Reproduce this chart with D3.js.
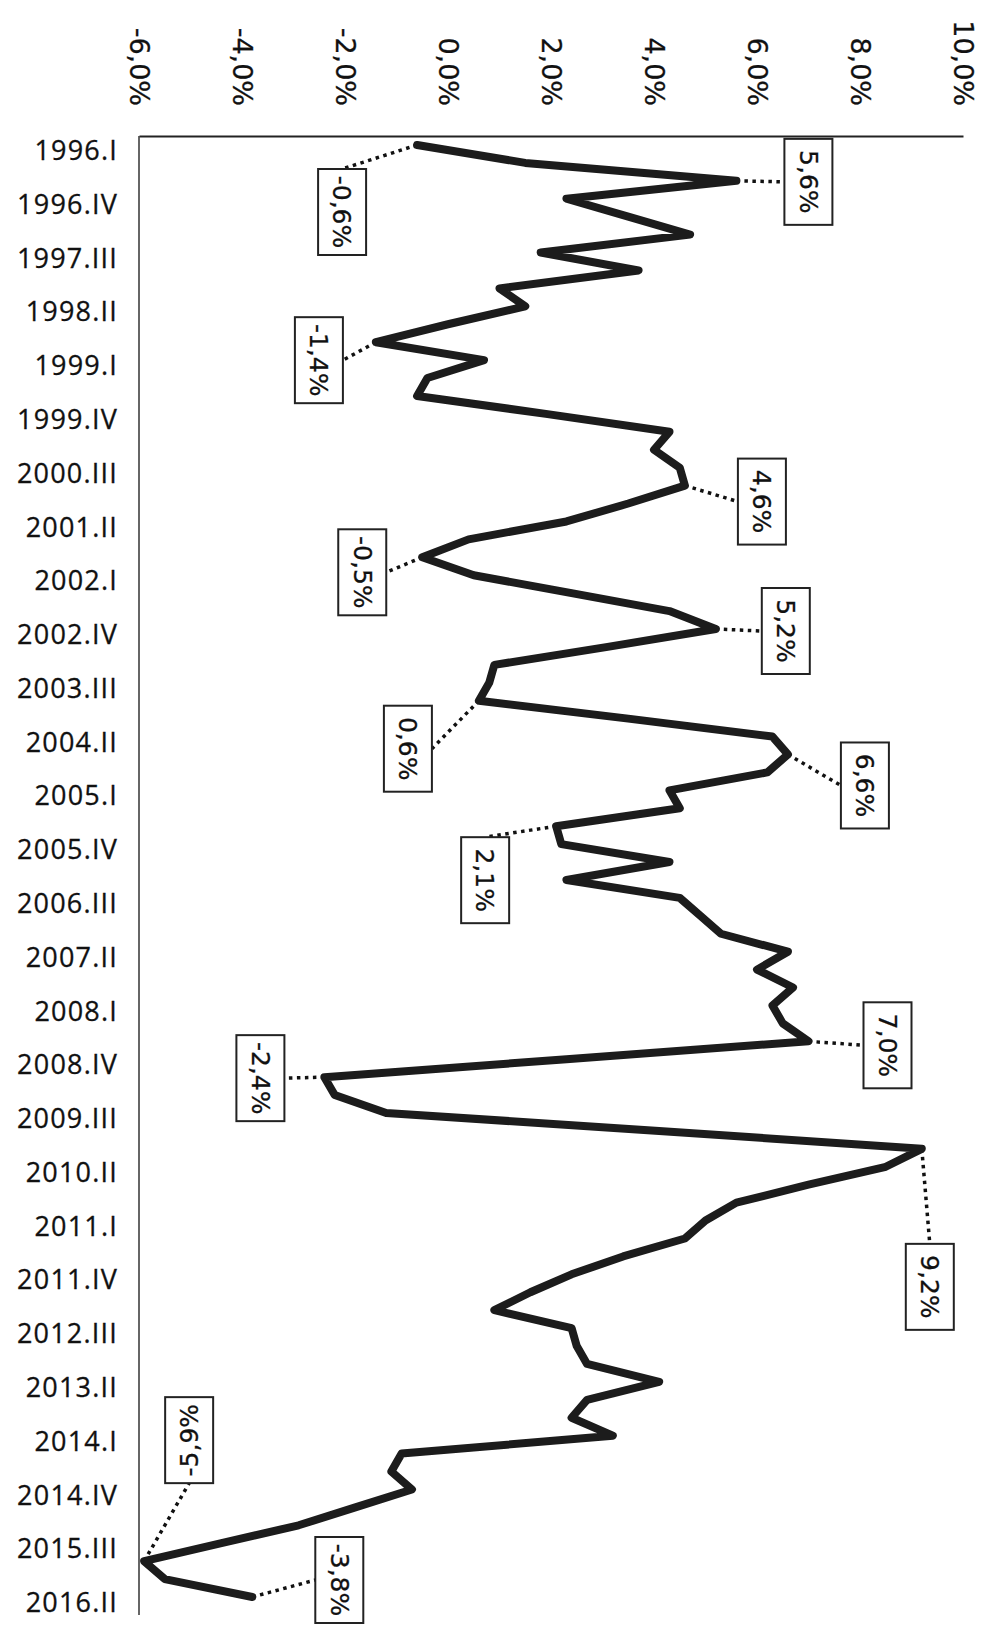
<!DOCTYPE html>
<html lang="en">
<head>
<meta charset="UTF-8">
<title>Quarterly growth, 1996-2016</title>
<script src="https://d3js.org/d3.v7.min.js"></script>
<style>
  body { margin: 0; background: #fff; }
  svg { display: block; background: #fff; }
  .cat text { font-family: "Open Sans", sans-serif; font-size: 27px; letter-spacing: 1.2px; fill: #111; stroke: #111; stroke-width: 0.3px; }
  .xaxis text { font-family: "DejaVu Sans", sans-serif; font-size: 27px; fill: #111; stroke: #111; stroke-width: 0.3px; }
  .callout text { font-family: "DejaVu Sans", sans-serif; font-size: 25px; fill: #111; stroke: #111; stroke-width: 0.3px; }
</style>
</head>
<body>
<div id="chart"></div>
<script>
// quarters on the vertical axis
const quarters = [
  "1996.I","1996.II","1996.III","1996.IV",
  "1997.I","1997.II","1997.III","1997.IV",
  "1998.I","1998.II","1998.III","1998.IV",
  "1999.I","1999.II","1999.III","1999.IV",
  "2000.I","2000.II","2000.III","2000.IV",
  "2001.I","2001.II","2001.III","2001.IV",
  "2002.I","2002.II","2002.III","2002.IV",
  "2003.I","2003.II","2003.III","2003.IV",
  "2004.I","2004.II","2004.III","2004.IV",
  "2005.I","2005.II","2005.III","2005.IV",
  "2006.I","2006.II","2006.III","2006.IV",
  "2007.I","2007.II","2007.III","2007.IV",
  "2008.I","2008.II","2008.III","2008.IV",
  "2009.I","2009.II","2009.III","2009.IV",
  "2010.I","2010.II","2010.III","2010.IV",
  "2011.I","2011.II","2011.III","2011.IV",
  "2012.I","2012.II","2012.III","2012.IV",
  "2013.I","2013.II","2013.III","2013.IV",
  "2014.I","2014.II","2014.III","2014.IV",
  "2015.I","2015.II","2015.III","2015.IV",
  "2016.I","2016.II"
];

// growth, %
const growth = [
  -0.6, 1.5, 5.6, 2.3, 3.5, 4.7, 1.8, 3.7, 1.0, 1.5,
   0.0, -1.4, 0.7, -0.4, -0.6, 1.9, 4.3, 4.0, 4.5, 4.6,
   3.5, 2.3, 0.4, -0.5, 0.5, 2.4, 4.3, 5.2, 3.1, 0.9,
   0.8, 0.6, 3.5, 6.3, 6.6, 6.2, 4.3, 4.5, 2.1, 2.2,
   4.3, 2.3, 4.5, 4.9, 5.3, 6.6, 6.0, 6.7, 6.3, 6.5,
   7.0, 2.3, -2.4, -2.2, -1.2, 4.1, 9.2, 8.5, 7.0, 5.6,
   5.0, 4.6, 3.4, 2.4, 1.6, 0.9, 2.4, 2.5, 2.7, 4.1,
   2.7, 2.4, 3.2, -0.9, -1.1, -0.7, -1.8, -2.9, -4.4, -5.9,
  -5.5, -3.8
];

const xTicks = [-6, -4, -2, 0, 2, 4, 6, 8, 10];

// labelled points: box offset from the point and which box edge the leader hits
const callouts = [
  { q: "1996.I",   dx: -75, dy: 67,   side: "top" },
  { q: "1996.III", dx: 72,  dy: 1,    side: "left" },
  { q: "1998.IV",  dx: -57, dy: 18,   side: "right" },
  { q: "2000.IV",  dx: 77,  dy: 16,   side: "left" },
  { q: "2001.IV",  dx: -60, dy: 15,   side: "right" },
  { q: "2002.IV",  dx: 70,  dy: 2,    side: "left" },
  { q: "2003.IV",  dx: -71, dy: 48,   side: "right" },
  { q: "2004.III", dx: 77,  dy: 31,   side: "left" },
  { q: "2005.III", dx: -71, dy: 54,   side: "top" },
  { q: "2008.III", dx: 79,  dy: 4,    side: "left" },
  { q: "2009.I",   dx: -64, dy: 1,    side: "right" },
  { q: "2010.I",   dx: 8,   dy: 138,  side: "top" },
  { q: "2015.IV",  dx: 45,  dy: -121, side: "bottom", flip: true },
  { q: "2016.II",  dx: 87,  dy: -17,  side: "left" }
];

const width = 985;
const height = 1638;

const loc = d3.formatLocale({ decimal: ",", thousands: " ", grouping: [3], currency: ["", ""], minus: "-" });
const pct = v => loc.format(".1f")(v) + "%";

const svg = d3.select("#chart")
  .append("svg")
  .attr("width", width)
  .attr("height", height);

const x = d3.scaleLinear().domain([-6, 10]).range([139, 963]);
const y = d3.scalePoint().domain(quarters).range([145, 1597]);
const axisY = 136;

// top value axis, labels turned on their side
const xAxis = svg.append("g")
  .attr("class", "xaxis")
  .attr("transform", `translate(0,${axisY})`)
  .call(d3.axisTop(x).tickValues(xTicks).tickSize(0).tickSizeOuter(0).tickFormat(pct));
xAxis.select(".domain").attr("stroke", "#222").attr("stroke-width", 2);
xAxis.selectAll("text")
  .attr("transform", "rotate(90)")
  .attr("x", -30)
  .attr("y", 0)
  .attr("dy", "0.35em")
  .attr("text-anchor", "end");

// left category axis
svg.append("line")
  .attr("x1", x(-6)).attr("x2", x(-6))
  .attr("y1", axisY).attr("y2", 1615)
  .attr("stroke", "#333").attr("stroke-width", 1.5);

const yAxis = svg.append("g")
  .attr("class", "cat")
  .attr("transform", `translate(${x(-6)},6)`)
  .call(d3.axisLeft(y).tickValues(quarters.filter((d, i) => i % 3 === 0)).tickSize(0).tickPadding(21));
yAxis.select(".domain").remove();

const pts = quarters.map((q, i) => ({ q, v: growth[i] }));

// callout boxes
const boxW = 48, boxH = 86;
const cdata = callouts.map(c => {
  const i = quarters.indexOf(c.q);
  const px = x(growth[i]), py = y(c.q);
  const cx = px + c.dx, cy = py + c.dy;
  let ax = cx, ay = cy;
  if (c.side === "top") ay = cy - boxH / 2;
  if (c.side === "bottom") ay = cy + boxH / 2;
  if (c.side === "left") ax = cx - boxW / 2;
  if (c.side === "right") ax = cx + boxW / 2;
  return { ...c, v: growth[i], px, py, cx, cy, ax, ay };
});

const callG = svg.append("g").attr("class", "callout");

callG.selectAll("line")
  .data(cdata)
  .enter().append("line")
  .attr("x1", d => d.px).attr("y1", d => d.py)
  .attr("x2", d => d.ax).attr("y2", d => d.ay)
  .attr("stroke", "#111")
  .attr("stroke-width", 3.5)
  .attr("stroke-dasharray", "3.5 4.5");

svg.append("path")
  .datum(pts)
  .attr("fill", "none")
  .attr("stroke", "#1c1c1c")
  .attr("stroke-width", 8)
  .attr("stroke-linejoin", "round")
  .attr("stroke-linecap", "round")
  .attr("d", d3.line().x(d => x(d.v)).y(d => y(d.q)));

const boxes = callG.selectAll("g.box")
  .data(cdata)
  .enter().append("g")
  .attr("class", "box")
  .attr("transform", d => `translate(${d.cx},${d.cy})`);

boxes.append("rect")
  .attr("x", -boxW / 2).attr("y", -boxH / 2)
  .attr("width", boxW).attr("height", boxH)
  .attr("fill", "#fff")
  .attr("stroke", "#222")
  .attr("stroke-width", 2);

boxes.append("text")
  .attr("transform", d => d.flip ? "rotate(-90)" : "rotate(90)")
  .attr("text-anchor", "middle")
  .attr("dy", "0.35em")
  .text(d => pct(d.v));
</script>
</body>
</html>
